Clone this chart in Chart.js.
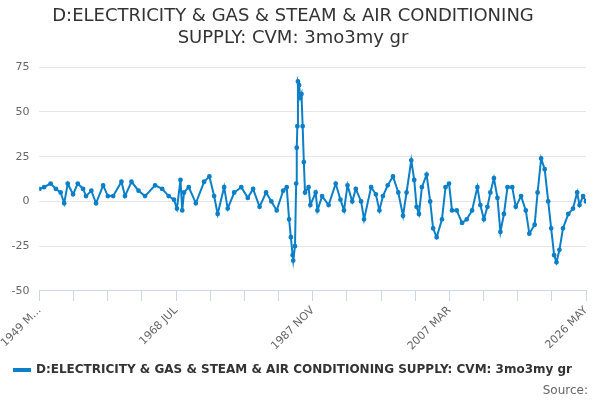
<!DOCTYPE html>
<html>
<head>
<meta charset="utf-8">
<script src="https://cdn.jsdelivr.net/npm/chart.js@4"></script>
<style>
  body { margin: 0; background: #fff; font-family: "DejaVu Sans", sans-serif; }
  #wrap { position: relative; width: 600px; height: 400px; }
  #source { position: absolute; right: 12px; bottom: 3px; font-size: 12px; color: #666; }
</style>
</head>
<body>
<div id="wrap">
  <canvas id="myChart" width="600" height="400"></canvas>
  <div id="source">Source:</div>
</div>
<script>
// months counted from 1949 MAR
let monthIdx = [0, 8, 19, 28, 36, 42, 48, 57, 65, 74, 79, 88, 96, 108, 116, 125, 139, 145, 156, 168, 179, 196, 208, 219, 228, 233, 239, 242, 245, 253,
  265, 279, 288, 296, 302, 313, 319, 330, 342, 353, 362, 373, 384, 393, 402, 413, 419, 423, 426, 429, 430, 433, 435, 436, 437, 438, 440, 442, 444, 446, 448, 450,
  456, 459, 468, 471, 479, 490, 502, 510, 516, 522, 530, 536, 545, 550, 562, 570, 576, 582, 590, 599, 608, 616, 622, 630, 635, 639, 643, 648, 656, 662, 667, 673,
  682, 688, 694, 699, 707, 716, 724, 733, 742, 747, 753, 759, 764, 770, 776, 781, 787, 793, 801, 807, 816, 824, 830, 839, 844, 850, 856, 862, 867, 872, 876,
  881, 887, 896, 904, 911, 915, 921, 926];
let growth = [7, 8, 10, 7, 5, -1, 10, 4, 10, 7, 3, 6, -1, 9, 3, 3, 11, 3, 11, 6, 3, 9, 7, 3, 1, -4, 12, -5, 5, 8,
  -1, 11, 14, 3, -7, 8, -4, 5, 8, 2, 7, -3, 5, 0, -5, 6, 8, -10, -20, -30, -33, -25, 10, 30, 42, 67, 65, 58, 60, 42, 22, 5,
  8, -2, 5, -5, 3, -2, 10, 1, -5, 9, 0, 7, 0, -10, 8, 4, -5, 3, 9, 14, 5, -8, 5, 23, 12, -3, -7, 8, 15, 0, -15, -20,
  -10, 8, 10, -5, -5, -12, -10, -5, 8, -2, -10, -3, 5, 13, 2, -17, -7, 8, 8, -3, 3, -5, -18, -13, 5, 24, 18, 0, -15, -30, -34,
  -27, -15, -7, -4, 5, -2, 3, 0];
let monthNames = ["JAN", "FEB", "MAR", "APR", "MAY", "JUN", "JUL", "AUG", "SEP", "OCT", "NOV", "DEC"];
let labelMonths = [0, 232, 464, 696, 926];
let yTicks = [-50, -25, 0, 25, 50, 75];

function monthLabel(i) {
  let m = 2 + i;
  let label = (1949 + Math.floor(m / 12)) + " " + monthNames[m % 12];
  return i === 0 ? "1949 M..." : label;
}

let points = monthIdx.map(function (m, i) { return { x: m, y: growth[i] }; });

new Chart("myChart", {
  type: "line",
  data: {
    datasets: [{
      label: "D:ELECTRICITY & GAS & STEAM & AIR CONDITIONING SUPPLY: CVM: 3mo3my gr",
      data: points,
      borderColor: "#0b7fc7",
      backgroundColor: "#0b7fc7",
      borderWidth: 2,
      pointRadius: 1.4,
      pointHoverRadius: 3,
      tension: 0
    }]
  },
  options: {
    responsive: false,
    animation: false,
    layout: { padding: { left: 0, right: 14, bottom: 14 } },
    plugins: {
      title: {
        display: true,
        text: ["D:ELECTRICITY & GAS & STEAM & AIR CONDITIONING", "SUPPLY: CVM: 3mo3my gr"],
        color: "#333",
        font: { family: "DejaVu Sans", size: 18, weight: "500", lineHeight: 1.2 },
        padding: { top: 6, bottom: 18 }
      },
      legend: {
        position: "bottom",
        labels: {
          color: "#333",
          font: { family: "DejaVu Sans", size: 12, weight: "bold" },
          boxWidth: 16,
          boxHeight: 2,
          padding: 8
        }
      }
    },
    scales: {
      x: {
        type: "linear",
        min: 0,
        max: 926,
        afterBuildTicks: function (axis) {
          let t = [];
          for (let k = 0; k <= 16; k++) t.push({ value: k * 926 / 16 });
          axis.ticks = t;
        },
        ticks: {
          autoSkip: false,
          minRotation: 45,
          maxRotation: 45,
          color: "#666",
          font: { family: "DejaVu Sans", size: 11 },
          callback: function (v, idx) {
            return idx % 4 === 0 ? monthLabel(labelMonths[idx / 4]) : "";
          }
        },
        grid: { drawOnChartArea: false, drawTicks: true, tickLength: 10, color: "#ccd6eb" },
        border: { color: "#ccd6eb" }
      },
      y: {
        min: -50,
        max: 75,
        afterBuildTicks: function (axis) { axis.ticks = yTicks.map(function (v) { return { value: v }; }); },
        ticks: { color: "#666", font: { family: "DejaVu Sans", size: 11 }, padding: 10 },
        grid: { color: "#e6e6e6", drawTicks: false },
        border: { display: false }
      }
    }
  }
});
</script>
</body>
</html>
